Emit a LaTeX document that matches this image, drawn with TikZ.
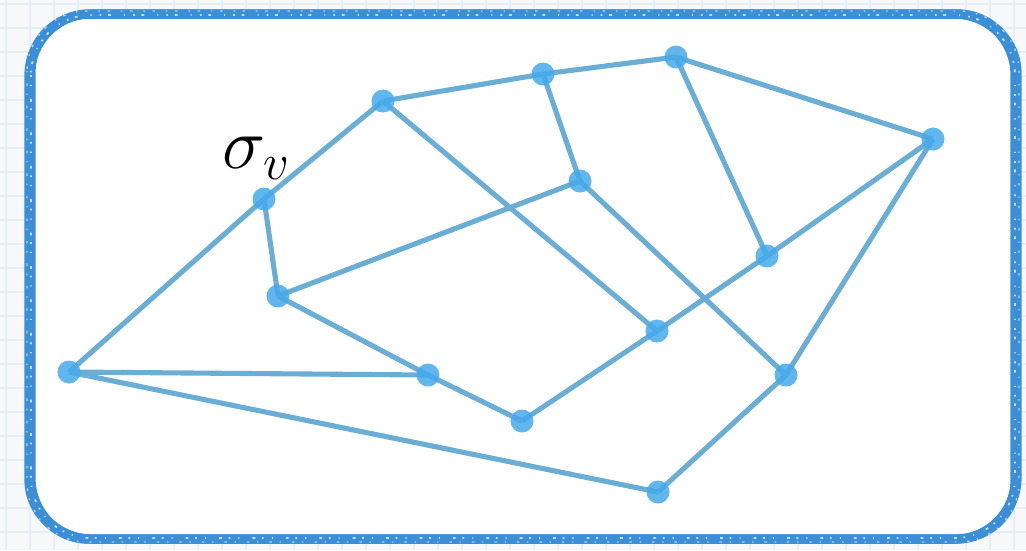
\documentclass[tikz,border=0pt]{standalone}
\usepackage{xcolor}
\usepackage{tikz}
\usetikzlibrary{positioning}
\definecolor{frameblue}{HTML}{3A8FD6}
\definecolor{edgeblue}{HTML}{6AAED6}
\definecolor{dotblue}{HTML}{45AAEA}
\definecolor{gridline}{HTML}{E6EDF3}
\definecolor{paper}{HTML}{F6F8FA}
\pgfdeclarelayer{paperlayer}
\pgfdeclarelayer{edgelayer}
\pgfsetlayers{paperlayer,edgelayer,main}
\tikzset{
  vertex/.style={circle, fill=dotblue, fill opacity=0.85, inner sep=0pt, minimum size=0.23cm},
  link/.style={draw=edgeblue, line width=1.45pt},
  chalk/.style={frameblue, line width=0.9pt, rounded corners=0.6cm},
}

\begin{document}
\begin{tikzpicture}[x=0.01cm, y=-0.01cm]
      \useasboundingbox (0,0) rectangle (1026,550);

      % Grid paper
      \begin{pgfonlayer}{paperlayer}
        \fill[paper] (0,0) rectangle (1026,550);
        \foreach \gx in {6,30,...,1026} {
          \draw[gridline, line width=0.4pt] (\gx,0) -- (\gx,550);
        }
        \foreach \gy in {4,28,...,550} {
          \draw[gridline, line width=0.4pt] (0,\gy) -- (1026,\gy);
        }
        % Card with chalky border
        \draw[frameblue, fill=white, line width=2.7pt, rounded corners=0.6cm]
          (30,14) rectangle (1016,539);
        \foreach \dx/\dy in {-3/-2, 3/2, -2/3, 2/-3, -4/1, 4/-1} {
          \draw[chalk] (30+\dx,14+\dy) rectangle (1016+\dx,539+\dy);
        }
        % speckles
        \draw[white, line width=0.5pt, opacity=0.7, rounded corners=0.6cm,
              dash pattern=on 0.5pt off 2.3pt on 0.3pt off 3.7pt on 0.8pt off 1.9pt]
          (31,15) rectangle (1015,538);
        \draw[white, line width=0.4pt, opacity=0.6, rounded corners=0.6cm,
              dash pattern=on 0.4pt off 3.1pt on 0.7pt off 2.2pt]
          (27,11) rectangle (1019,542);
      \end{pgfonlayer}

      % Vertices
      \node[vertex] (va) at (69,372) {};
      \node[vertex] (vb) at (264,199) {};
      \node[vertex] (vc) at (383,101) {};
      \node[vertex] (vd) at (543,74) {};
      \node[vertex] (ve) at (676,57) {};
      \node[vertex] (vf) at (933,139) {};
      \node[vertex] (vg) at (580,181) {};
      \node[vertex] (vh) at (278,296) {};
      \node[vertex] (vi) at (428,375) {};
      \node[vertex] (vj) at (522,421) {};
      \node[vertex] (vk) at (657,331) {};
      \node[vertex] (vl) at (767,256) {};
      \node[vertex] (vm) at (786,375) {};
      \node[vertex] (vn) at (658,492) {};

      % Label of the marked vertex
      \node[font=\fontsize{20}{24}\selectfont, anchor=center] (sigmav)
        at (257,158) {$\sigma_{v}$};

      % Edges
      \begin{pgfonlayer}{edgelayer}
        \foreach \p/\q in {va/vb, va/vi, va/vn, vb/vc, vb/vh, vc/vd, vc/vk,
                           vd/ve, vd/vg, ve/vf, ve/vl, vf/vl, vf/vm, vg/vh,
                           vg/vm, vh/vi, vi/vj, vj/vk, vk/vl, vm/vn} {
          \draw[link] (\p.center) -- (\q.center);
        }
      \end{pgfonlayer}
    \end{tikzpicture}
\end{document}
